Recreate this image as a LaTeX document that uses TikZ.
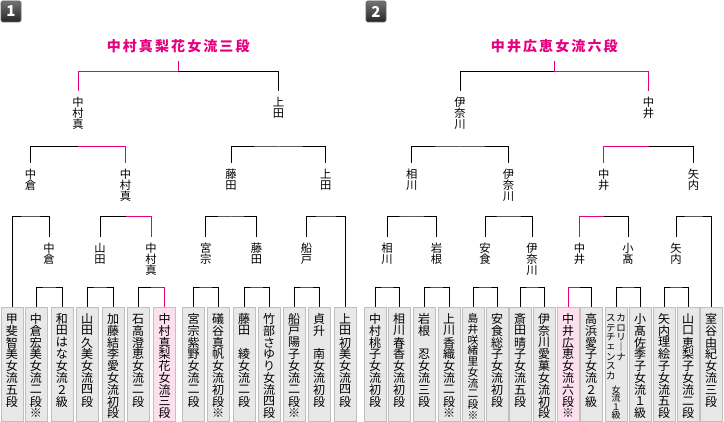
\documentclass[tikz,border=0pt]{standalone}
\usepackage{fontspec}
\usepackage{xcolor}
\usepackage{tikz}
\newfontfamily\jp{Noto Sans CJK JP}
\newfontfamily\jptitle[LetterSpace=15]{Noto Sans CJK JP}
\definecolor{winpink}{HTML}{E4007F}
\definecolor{champfill}{HTML}{FDE0EE}
\definecolor{champline}{HTML}{F4A6CC}
\newcommand\tate[2][11.8]{\vtop{\offinterlineskip\def\tatep{#1pt}\expandafter\tatei#2\relax}}
\newcommand\tatei[1]{\ifx#1\relax\else\hbox to 1.1em{\hss\vbox to \tatep{\vss\hbox{#1}\vss}\hss}\expandafter\tatei\fi}
\newcommand\cbox[2][11.8]{\vbox to 114pt{\offinterlineskip\vskip5.5pt\hbox to 22pt{\hss\tate[#1]{#2}\hss}\vss}}

\begin{document}
\begin{tikzpicture}[x=1pt,y=-1pt,line width=1pt,
cand/.style={draw=black!25,fill=black!9,inner sep=0pt,anchor=north,font=\jp\fontsize{12}{12}\selectfont},
champ/.style={cand,draw=champline,fill=champfill},
lbl/.style={inner xsep=0pt,inner ysep=5.5pt,anchor=north,font=\jp\fontsize{11.3}{12}\selectfont},
win/.style={draw=winpink},
title/.style={text=winpink,inner xsep=0pt,inner ysep=9pt,text depth=0pt,anchor=south,font=\jptitle\bfseries\fontsize{14}{16}\selectfont},
badge/.style={top color=black!55,bottom color=black!85,draw=black!60,line width=.6pt,rounded corners=1.5pt,minimum width=20pt,minimum height=21pt,inner sep=0pt,text=white,font=\jp\bfseries\fontsize{15}{15}\selectfont}]
\useasboundingbox(0,0)rectangle(724,422);

\node[badge](n1)at(11,11.5){1};
\node[badge](n2)at(376,11.5){2};

\node[cand](a1)at(12,307){\cbox{甲斐智美女流五段}};
\node[cand](a2)at(36,307){\cbox{中倉宏美女流二段※}};
\node[cand](a3)at(62,307){\cbox{和田はな女流２級}};
\node[cand](a4)at(87,307){\cbox{山田久美女流四段}};
\node[cand](a5)at(113,307){\cbox{加藤結李愛女流初段}};
\node[cand](a6)at(138,307){\cbox{石高澄恵女流二段}};
\node[champ](a7)at(164.5,307){\cbox{中村真梨花女流三段}};
\node[cand](a8)at(193.5,307){\cbox{宮宗紫野女流二段}};
\node[cand](a9)at(218,307){\cbox{礒谷真帆女流初段※}};
\node[cand](a10)at(244,307){\cbox{藤田　綾女流二段}};
\node[cand](a11)at(269,307){\cbox{竹部さゆり女流四段}};
\node[cand](a12)at(294,307){\cbox{船戸陽子女流二段※}};
\node[cand](a13)at(319,307){\cbox{貞升　南女流初段}};
\node[cand](a14)at(345,307){\cbox{上田初美女流四段}};

\coordinate(m1)at(49,288);
\coordinate(m2)at(100,288);
\coordinate(m3)at(151,288);
\coordinate(m4)at(205.75,288);
\coordinate(m5)at(256.5,288);
\coordinate(m6)at(306.5,288);
\draw(a2.north)|-(m1)-|(a3.north);
\draw(a4.north)|-(m2)-|(a5.north);
\draw(a6.north)|-(m3);
\draw[win](m3)-|(a7.north);
\draw(a8.north)|-(m4)-|(a9.north);
\draw(a10.north)|-(m5)-|(a11.north);
\draw(a12.north)|-(m6)-|(a13.north);

\node[lbl](q1)at(49,237){\tate[11]{中倉}};
\node[lbl](q2)at(100,237){\tate[11]{山田}};
\node[lbl](q3)at(151,237){\tate[11]{中村真}};
\node[lbl](q4)at(205.75,237){\tate[11]{宮宗}};
\node[lbl](q5)at(256.5,237){\tate[11]{藤田}};
\node[lbl](q6)at(306.5,237){\tate[11]{船戸}};

\coordinate(k1)at(30.5,217);
\coordinate(k2)at(125.5,217);
\coordinate(k3)at(231,217);
\coordinate(k4)at(325.75,217);
\draw(a1.north)|-(k1)-|(q1.north);
\draw(q2.north)|-(k2);
\draw[win](k2)-|(q3.north);
\draw(q4.north)|-(k3)-|(q5.north);
\draw(q6.north)|-(k4)-|(a14.north);

\node[lbl](s1)at(30.5,163){\tate[11]{中倉}};
\node[lbl](s2)at(125.5,163){\tate[11]{中村真}};
\node[lbl](s3)at(231,163){\tate[11]{藤田}};
\node[lbl](s4)at(325.75,163){\tate[11]{上田}};

\coordinate(p1)at(78,147);
\coordinate(p2)at(278.4,147);
\draw(s1.north)|-(p1);
\draw[win](p1)-|(s2.north);
\draw(s3.north)|-(p2)-|(s4.north);

\node[lbl](f1)at(78,91){\tate[11]{中村真}};
\node[lbl](f2)at(278.4,91){\tate[11]{上田}};
\node[title](t1)at(178.2,61){中村真梨花女流三段};
\coordinate(w1)at(178.2,72);
\draw[win](f1.north)|-(w1)--(t1.south);
\draw(w1)-|(f2.north);

\node[cand](b1)at(375,307){\cbox{中村桃子女流初段}};
\node[cand](b2)at(399,307){\cbox{相川春香女流初段}};
\node[cand](b3)at(424,307){\cbox{岩根　忍女流三段}};
\node[cand](b4)at(449,307){\cbox{上川香織女流二段※}};
\node[cand,font=\jp\fontsize{10.8}{11}\selectfont](b5)at(473,307){\cbox[10.8]{島井咲緒里女流二段※}};
\node[cand](b6)at(497,307){\cbox{安食総子女流初段}};
\node[cand](b7)at(520,307){\cbox{斎田晴子女流五段}};
\node[cand](b8)at(544,307){\cbox{伊奈川愛菓女流初段}};
\node[champ](b9)at(568,307){\cbox{中井広恵女流六段※}};
\node[cand](b10)at(591,307){\cbox{高浜愛子女流２級}};
\node[cand,font=\jp\fontsize{9.5}{10}\selectfont](b11)at(616,307){\vbox to 114pt{\offinterlineskip\vskip6pt
\hbox to 22pt{\hss\tate[9.6]{ステチェンスカ}\tate[9.6]{カロリ｜ナ}\hss}\vskip5pt
\hbox to 22pt{\hss\fontsize{9}{9}\selectfont\tate[8.5]{女流１級}\hss}\vss}};
\node[cand](b12)at(640,307){\cbox{小髙佐季子女流１級}};
\node[cand](b13)at(664,307){\cbox{矢内理絵子女流五段}};
\node[cand](b14)at(688,307){\cbox{山口恵梨子女流二段}};
\node[cand](b15)at(711,307){\cbox{室谷由紀女流三段}};

\coordinate(m8)at(387,288);
\coordinate(m9)at(436.5,288);
\coordinate(m10)at(485,288);
\coordinate(m11)at(532,288);
\coordinate(m12)at(579.5,288);
\coordinate(m13)at(628,288);
\coordinate(m14)at(676,288);
\draw(b1.north)|-(m8)-|(b2.north);
\draw(b3.north)|-(m9)-|(b4.north);
\draw(b5.north)|-(m10)-|(b6.north);
\draw(b7.north)|-(m11)-|(b8.north);
\draw[win](b9.north)|-(m12);
\draw(m12)-|(b10.north);
\draw(b11.north)|-(m13)-|(b12.north);
\draw(b13.north)|-(m14)-|(b14.north);

\node[lbl](q7)at(387,237){\tate[11]{相川}};
\node[lbl](q8)at(436.5,237){\tate[11]{岩根}};
\node[lbl](q9)at(485,237){\tate[11]{安食}};
\node[lbl](q10)at(532,237){\tate[11]{伊奈川}};
\node[lbl](q11)at(579.5,237){\tate[11]{中井}};
\node[lbl](q12)at(628,237){\tate[11]{小髙}};
\node[lbl](q13)at(676,237){\tate[11]{矢内}};

\coordinate(k5)at(411.75,217);
\coordinate(k6)at(508.5,217);
\coordinate(k7)at(603.75,217);
\coordinate(k8)at(693.5,217);
\draw(q7.north)|-(k5)-|(q8.north);
\draw(q9.north)|-(k6)-|(q10.north);
\draw[win](q11.north)|-(k7);
\draw(k7)-|(q12.north);
\draw(q13.north)|-(k8)-|(b15.north);

\node[lbl](s5)at(411.75,163){\tate[11]{相川}};
\node[lbl](s6)at(508.5,163){\tate[11]{伊奈川}};
\node[lbl](s7)at(603.75,163){\tate[11]{中井}};
\node[lbl](s8)at(693.5,163){\tate[11]{矢内}};

\coordinate(p3)at(460,147);
\coordinate(p4)at(648.6,147);
\draw(s5.north)|-(p3)-|(s6.north);
\draw[win](s7.north)|-(p4);
\draw(p4)-|(s8.north);

\node[lbl](f3)at(460,91){\tate[11]{伊奈川}};
\node[lbl](f4)at(648.6,91){\tate[11]{中井}};
\node[title](t2)at(554.3,61){中井広恵女流六段};
\coordinate(w2)at(554.3,72);
\draw(f3.north)|-(w2);
\draw[win](t2.south)--(w2)-|(f4.north);
\end{tikzpicture}
\end{document}
